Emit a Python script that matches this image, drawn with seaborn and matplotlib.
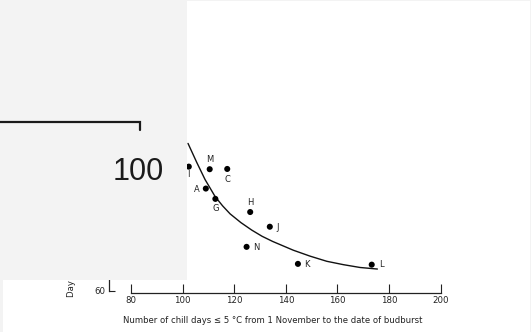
import matplotlib
matplotlib.use("Agg")
import matplotlib.pyplot as plt
from matplotlib.patches import Rectangle
from matplotlib.lines import Line2D
import pandas as pd
import seaborn as sns

# Clones: chill days to budburst and day of budburst
clones = ["I", "M", "C", "A", "G", "H", "J", "N", "K", "L"]
chill_days = [102.4, 110.5, 117.3, 109.0, 112.7, 126.2, 133.8, 124.8, 144.7, 173.3]
budburst_day = [108.2, 107.2, 107.3, 99.7, 95.7, 90.6, 84.9, 77.1, 70.5, 70.2]

# Fitted response curve
curve_chill = [102.1, 105.5, 108.7, 112.6, 115.5, 118.4, 122.6, 126.8, 130.8, 134.9,
               142.9, 149.4, 155.9, 162.3, 168.8, 175.5]
curve_day = [117.2, 109.8, 103.2, 96.6, 93.0, 89.9, 86.5, 83.6, 81.2, 79.2,
             75.8, 73.5, 71.5, 70.2, 69.1, 68.5]

x_ticks = [80, 100, 120, 140, 160, 180, 200]
y_ticks = [60, 80, 100, 120]

# label placement around each dot (offset in points)
label_offsets = {
    "I": (-0.5, -5.8), "M": (0, 7.0), "C": (0, -7.6), "A": (-6.2, -0.4),
    "G": (0, -7.2), "H": (0, 7.2), "J": (5.8, -0.7), "N": (7.0, -0.5),
    "K": (6.3, -0.7), "L": (6.8, 0.3),
}

sns.set_style("ticks")
plt.rcParams["font.family"] = ["DejaVu Sans"]

W, H = 531, 332
fig = plt.figure(figsize=(W / 100, H / 100), dpi=100)
fig.patch.set_facecolor("#f3f3f3")
fig.patches.append(Rectangle((3 / W, 0), 527 / W, 331 / H, transform=fig.transFigure,
                             facecolor="white", edgecolor="none", zorder=-10))

# axes placed so that x=80 -> 131 px, 2.58 px per unit; y=60 -> 291 px
ax_left, ax_right = 105.2, 453.5
ax_top, ax_bottom = 110.4, 298.7
ax = fig.add_axes([ax_left / W, 1 - ax_bottom / H, (ax_right - ax_left) / W, (ax_bottom - ax_top) / H])
ax.patch.set_visible(False)
ax.set_xlim(70, 205)
ax.set_ylim(57, 130)

df = pd.DataFrame({"clone": clones, "chill": chill_days, "day": budburst_day})
curve = pd.DataFrame({"chill": curve_chill, "day": curve_day})

sns.lineplot(data=curve, x="chill", y="day", ax=ax, color="#111111", lw=1.0,
             estimator=None, sort=False)
sns.scatterplot(data=df, x="chill", y="day", ax=ax, color="black", s=19,
                edgecolor="none", zorder=3)

for name, cx, cy in zip(clones, chill_days, budburst_day):
    dx, dy = label_offsets[name]
    ax.annotate(name, (cx, cy), xytext=(dx, dy), textcoords="offset points",
                ha="center", va="center", fontsize=6.0, color="#222222")

for side in ("top", "right"):
    ax.spines[side].set_visible(False)
ax.spines["left"].set_position(("data", 71.36))
ax.spines["left"].set_bounds(60, 120)
ax.spines["bottom"].set_position(("data", 59.22))
ax.spines["bottom"].set_bounds(80, 200)
for side in ("left", "bottom"):
    ax.spines[side].set_linewidth(0.9)
    ax.spines[side].set_color("#222222")

ax.set_xticks(x_ticks)
ax.set_yticks(y_ticks)
ax.tick_params(axis="x", direction="in", length=6.2, width=0.8, pad=2.0,
               labelsize=6.2, colors="#222222")
ax.tick_params(axis="y", direction="in", length=4.5, width=0.8, pad=2.4,
               labelsize=6.2, colors="#222222")
ax.set_xlabel("")
ax.set_ylabel("")

fig.text(272.5 / W, 1 - 320.3 / H,
         "Number of chill days \u2264 5 \u00b0C from 1 November to the date of budburst",
         ha="center", va="center", fontsize=6.15, color="#222222")
fig.text(71.7 / W, 1 - 297 / H, "Day of budburst", rotation=90, rotation_mode="anchor",
         ha="left", va="center", fontsize=6.15, color="#222222")

# magnified inset panel over the upper left corner
fig.patches.append(Rectangle((0, 1 - 280 / H), 186.5 / W, 280 / H, transform=fig.transFigure,
                             facecolor="#f3f3f3", edgecolor="none", zorder=10))
fig.lines.append(Line2D([0, 140 / W, 140 / W], [1 - 121.5 / H, 1 - 121.5 / H, 1 - 129.5 / H],
                        transform=fig.transFigure, color="#1a1a1a", lw=1.6, zorder=11,
                        solid_joinstyle="miter"))
fig.text(138.5 / W, 1 - 172 / H, "100", ha="center", va="center", fontsize=22,
         family="Liberation Sans", color="#1a1a1a", zorder=12)

fig.savefig("out.png", dpi=100)
